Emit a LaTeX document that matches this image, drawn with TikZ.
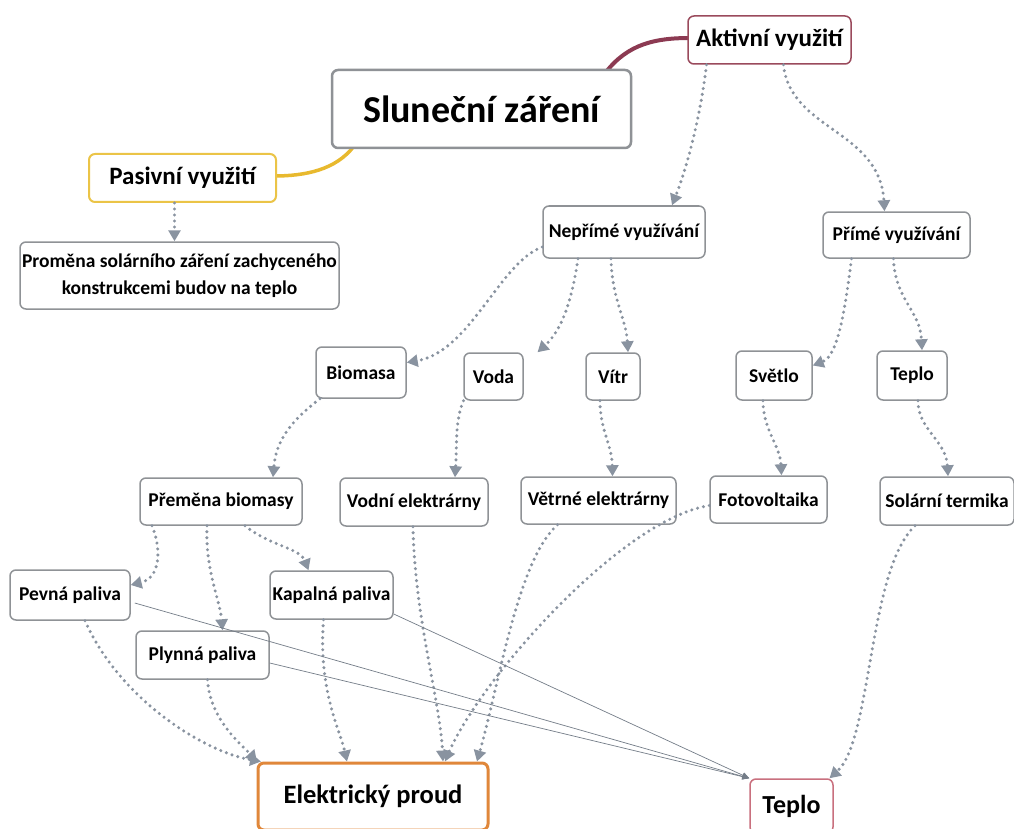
\documentclass[tikz,border=0pt]{standalone}
\usepackage{fontspec}
\setmainfont{Carlito}
\usetikzlibrary{arrows.meta,calc}
\definecolor{boxgray}{HTML}{8F9296}
\definecolor{dotgray}{HTML}{8993A0}
\definecolor{aktred}{HTML}{9A4A5C}
\definecolor{curvered}{HTML}{8C3A52}
\definecolor{pasyellow}{HTML}{EBC447}
\definecolor{curveyellow}{HTML}{E8B92E}
\definecolor{elorange}{HTML}{E0873A}
\definecolor{teplored}{HTML}{C9707E}
\begin{document}
\begin{tikzpicture}[x=1pt,y=-1pt,
  box/.style={draw=boxgray, line width=1.5pt, rounded corners=6pt, fill=white, inner sep=0pt,
    font=\bfseries\fontsize{19.5}{27}\selectfont, align=center},
  midfont/.style={font=\bfseries\fontsize{25}{30}\selectfont},
  dotarrow/.style={draw=dotgray, line width=3.4pt, line cap=round, dash pattern=on 0pt off 6pt,
    -{Triangle[width=12pt,length=11pt]}},
  thinarrow/.style={draw=dotgray!85!black, line width=0.7pt, -{Triangle[width=6pt,length=7pt]}}
]
\useasboundingbox (0,0) rectangle (1014,829);
\clip (0,0) rectangle (1014,829);
\fill[white] (0,0) rectangle (1014,829);

% thick coloured branches
\draw[curvered, line width=4pt] (606,72) .. controls (628,44) and (655,38) .. (690,38);
\draw[curveyellow, line width=3.5pt] (354,146) .. controls (336,170) and (305,176) .. (274,176);

% nodes
\node[box, draw=aktred, midfont, minimum width=163pt, minimum height=48pt] (akt) at (769.5,40) {Aktivní využití};
\node[box, line width=2.5pt, font=\bfseries\fontsize{38}{44}\selectfont, minimum width=299pt, minimum height=78pt] (slun) at (481.5,109) {Sluneční záření};
\node[box, draw=pasyellow, line width=2pt, midfont, minimum width=187pt, minimum height=48pt] (pas) at (182.5,178) {Pasivní využití};
\node[box, minimum width=319pt, minimum height=67pt] (prom) at (179.5,275.5) {Proměna solárního záření zachyceného\\konstrukcemi budov na teplo};
\node[box, minimum width=162pt, minimum height=52pt] (nep) at (624,232) {Nepřímé využívání};
\node[box, minimum width=147pt, minimum height=46pt] (prim) at (896.5,235) {Přímé využívání};
\node[box, minimum width=90pt, minimum height=51pt] (bio) at (361,372.5) {Biomasa};
\node[box, minimum width=59pt, minimum height=47pt] (voda) at (493.5,376.5) {Voda};
\node[box, minimum width=54pt, minimum height=47pt] (vitr) at (613,376.5) {Vítr};
\node[box, minimum width=76pt, minimum height=49pt] (svet) at (774,375.5) {Světlo};
\node[box, minimum width=70pt, minimum height=49pt] (teplo1) at (912,375.5) {Teplo};
\node[box, minimum width=162pt, minimum height=47pt] (prem) at (221,501.5) {Přeměna biomasy};
\node[box, minimum width=148pt, minimum height=48pt] (vodni) at (414,502) {Vodní elektrárny};
\node[box, minimum width=155pt, minimum height=47pt] (vetr) at (598.5,500.5) {Větrné elektrárny};
\node[box, minimum width=117pt, minimum height=47pt] (foto) at (768.5,499.5) {Fotovoltaika};
\node[box, minimum width=134pt, minimum height=48pt] (solar) at (947,501) {Solární termika};
\node[box, minimum width=120pt, minimum height=50pt] (pevna) at (70,595) {Pevná paliva};
\node[box, minimum width=123pt, minimum height=48pt] (kap) at (331.5,595) {Kapalná paliva};
\node[box, minimum width=133pt, minimum height=48pt] (plyn) at (202.5,655) {Plynná paliva};
\node[box, draw=elorange, line width=3pt, font=\bfseries\fontsize{26.5}{30}\selectfont, minimum width=230pt, minimum height=67pt] (elek) at (373,796.5) {Elektrický proud};
\node[box, draw=teplored, font=\bfseries\fontsize{26}{30}\selectfont, minimum width=83pt, minimum height=54pt] (teplo2) at (791.5,806) {Teplo};

% dotted arrows
\draw[dotarrow] ([xshift=-63pt]akt.south) .. controls (700,120) and (686,170) .. ([xshift=48pt]nep.north);
\draw[dotarrow] ([xshift=14pt]akt.south) .. controls (790,130) and (880,130) .. ([xshift=-12pt]prim.north);
\draw[dotarrow] ([xshift=-8pt]pas.south) -- ([xshift=-5pt]prom.north);
\draw[dotarrow] ([yshift=-15pt]nep.west) .. controls (500,262) and (470,352) .. ([yshift=10pt]bio.east);
\draw[dotarrow] ([xshift=-46pt]nep.south) .. controls (572,300) and (562,330) .. ([xshift=44pt]voda.north);
\draw[dotarrow] ([xshift=-13pt]nep.south) .. controls (612,300) and (626,318) .. ([xshift=15pt]vitr.north);
\draw[dotarrow] ([xshift=-45pt]prim.south) .. controls (845,310) and (838,356) .. ([yshift=10pt]svet.east);
\draw[dotarrow] ([xshift=-3pt]prim.south) .. controls (895,300) and (920,310) .. ([xshift=10pt]teplo1.north);
\draw[dotarrow] ([xshift=-41pt]bio.south) .. controls (292,420) and (276,440) .. ([xshift=52pt]prem.north);
\draw[dotarrow] ([xshift=-30pt]voda.south) .. controls (455,420) and (457,445) .. ([xshift=41pt]vodni.north);
\draw[dotarrow] ([xshift=-13pt]vitr.south) .. controls (600,430) and (612,445) .. ([xshift=14pt]vetr.north);
\draw[dotarrow] ([xshift=-11pt]svet.south) .. controls (763,430) and (780,445) .. ([xshift=13pt]foto.north);
\draw[dotarrow] ([xshift=6pt]teplo1.south) .. controls (918,430) and (946,440) .. ([xshift=1pt]solar.north);
\draw[dotarrow] ([xshift=-69pt]prem.south) .. controls (162,550) and (160,578) .. ([yshift=10pt]pevna.east);
\draw[dotarrow] ([xshift=-14pt]prem.south) .. controls (205,570) and (220,600) .. ([xshift=20pt]plyn.north);
\draw[dotarrow] ([xshift=24pt]prem.south) .. controls (270,546) and (300,548) .. ([xshift=-23pt]kap.north);
\draw[dotarrow] ([xshift=15pt]pevna.south) .. controls (120,700) and (205,752) .. ([xshift=-112pt]elek.north);
\draw[dotarrow] ([xshift=5pt]plyn.south) .. controls (210,720) and (242,745) .. ([xshift=-116pt]elek.north);
\draw[dotarrow] ([xshift=-8pt]kap.south) .. controls (318,690) and (340,730) .. ([xshift=-26pt]elek.north);
\draw[dotarrow] ([xshift=-1pt]vodni.south) .. controls (415,620) and (440,700) .. ([xshift=70pt]elek.north);
\draw[dotarrow] ([xshift=-41pt]vetr.south) .. controls (518,560) and (500,680) .. ([xshift=104pt]elek.north);
\draw[dotarrow] ([yshift=-6pt]foto.west) .. controls (620,520) and (480,680) .. ([xshift=72pt]elek.north);
\draw[dotarrow] ([xshift=-32pt]solar.south) .. controls (868,570) and (872,740) .. ([xshift=38pt]teplo2.north);

% thin lines
\draw[thinarrow] ([xshift=4pt,yshift=-8pt]pevna.east) -- (teplo2.north west);
\draw[thinarrow] ([yshift=-8pt]plyn.east) -- (teplo2.north west);
\draw[thinarrow] ([yshift=-19pt]kap.east) -- (teplo2.north west);
\end{tikzpicture}
\end{document}
